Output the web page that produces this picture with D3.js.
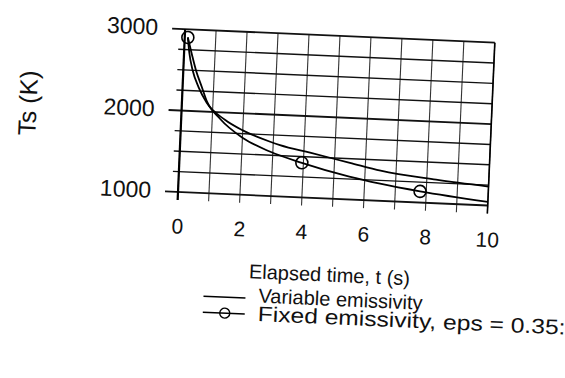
<!DOCTYPE html>
<html>
<head>
<meta charset="utf-8">
<script src="https://cdn.jsdelivr.net/npm/d3@7"></script>
<style>
  body { margin: 0; background: #fff; }
  text { font-family: "Liberation Sans", Arial, sans-serif; fill: #111; }
</style>
</head>
<body>
<script>
const width = 565;
const height = 378;

// values
const varTime = [0.1, 0.17, 0.3, 0.51, 0.8, 1.41, 2, 2.9, 3.22, 4.2, 5.5, 6.5, 8.3, 10];
const varTemp = [2900, 2710, 2500, 2300, 2110, 1910, 1790, 1665, 1630, 1552, 1450, 1370, 1290, 1233];
const fixTime = [0.1, 0.25, 0.41, 0.62, 0.8, 1.25, 2, 2.9, 3.95, 5.5, 6.5, 7.8, 10];
const fixTemp = [2900, 2700, 2500, 2300, 2130, 1920, 1700, 1545, 1424, 1280, 1210, 1137, 1045];
const markTime = [0.1, 3.95, 7.8];
const markTemp = [2900, 1424, 1137];
const xTicks = [0, 2, 4, 6, 8, 10];
const yTicks = [1000, 2000, 3000];
const legendLabels = ["Variable emissivity", "Fixed emissivity, eps = 0.35:"];

const margin = {top: 29, right: 77, bottom: 186, left: 178};
const plotW = width - margin.left - margin.right,
    plotH = height - margin.top - margin.bottom;

const svg = d3.select('body').append('svg')
    .attr('width', width)
    .attr('height', height);

// the whole scan is tilted a little clockwise
const page = svg.append('g')
    .attr('transform', `rotate(2.5, ${margin.left}, ${margin.top + plotH})`);

const g = page.append('g')
    .attr('transform', `translate(${margin.left},${margin.top})`);

const x = d3.scaleLinear().domain([0, 10]).range([0, plotW]);
const y = d3.scaleLinear().domain([1000, 3000]).range([plotH, 0]);

// vertical grid, poking out under the bottom edge
g.append('g').selectAll('line')
    .data(d3.range(0, 11))
    .enter().append('line')
    .attr('x1', d => x(d)).attr('x2', d => x(d))
    .attr('y1', 0).attr('y2', plotH + 8)
    .attr('stroke', '#333')
    .attr('stroke-width', 1.1);

// horizontal grid, poking out left of the axis
g.append('g').selectAll('line')
    .data(d3.range(1000, 3001, 250))
    .enter().append('line')
    .attr('x1', d => d % 1000 === 0 ? -13 : -6)
    .attr('x2', plotW)
    .attr('y1', d => y(d)).attr('y2', d => y(d))
    .attr('stroke', '#111')
    .attr('stroke-width', d => d % 1000 === 0 ? 1.8 : 1.4);

// frame
g.append('line').attr('x1', 0).attr('x2', 0).attr('y1', 0).attr('y2', plotH + 8)
    .attr('stroke', '#000').attr('stroke-width', 2.2);
g.append('line').attr('x1', plotW).attr('x2', plotW).attr('y1', 0).attr('y2', plotH + 8)
    .attr('stroke', '#000').attr('stroke-width', 1.6);

// tick labels
g.append('g').selectAll('text')
    .data(yTicks)
    .enter().append('text')
    .attr('x', -27)
    .attr('y', d => y(d) - 1)
    .attr('text-anchor', 'end')
    .attr('dominant-baseline', 'central')
    .style('font-size', '23px')
    .text(d => d);

g.append('g').selectAll('text')
    .data(xTicks)
    .enter().append('text')
    .attr('x', d => x(d) + 1)
    .attr('y', plotH + 34)
    .attr('text-anchor', 'middle')
    .attr('dominant-baseline', 'central')
    .style('font-size', '21px')
    .text(d => d);

// axis titles
g.append('text')
    .attr('x', plotW / 2)
    .attr('y', plotH + 76)
    .attr('text-anchor', 'middle')
    .attr('dominant-baseline', 'central')
    .style('font-size', '20px')
    .text('Elapsed time, t (s)');

g.append('text')
    .attr('transform', `translate(${-154},${plotH / 2 - 1}) rotate(-90)`)
    .attr('text-anchor', 'middle')
    .attr('dominant-baseline', 'central')
    .style('font-size', '25px')
    .text('Ts (K)');

// curves
const line = d3.line()
    .x(d => x(d[0]))
    .y(d => y(d[1]))
    .curve(d3.curveMonotoneX);

g.append('path')
    .datum(d3.zip(varTime, varTemp))
    .attr('fill', 'none')
    .attr('stroke', '#000')
    .attr('stroke-width', 1.8)
    .attr('d', line);

g.append('path')
    .datum(d3.zip(fixTime, fixTemp))
    .attr('fill', 'none')
    .attr('stroke', '#000')
    .attr('stroke-width', 1.8)
    .attr('d', line);

g.append('g').selectAll('circle')
    .data(d3.zip(markTime, markTemp))
    .enter().append('circle')
    .attr('cx', d => x(d[0]))
    .attr('cy', d => y(d[1]))
    .attr('r', 6)
    .attr('fill', 'none')
    .attr('stroke', '#000')
    .attr('stroke-width', 1.6);

// legend
const legend = g.append('g')
    .attr('transform', `translate(${30},${plotH + 103})`);

legendLabels.forEach(function(label, i) {
    const row = legend.append('g').attr('transform', `translate(0,${i * 16})`);
    row.append('line')
        .attr('x1', 0).attr('x2', 42)
        .attr('stroke', '#000').attr('stroke-width', 1.4);
    if (i === 1) {
        row.append('circle').attr('cx', 22).attr('r', 5)
            .attr('fill', 'none').attr('stroke', '#000').attr('stroke-width', 1.4);
    }
    const t = row.append('text')
        .attr('x', 55)
        .attr('y', i === 0 ? -3 : -1)
        .attr('dominant-baseline', 'central')
        .style('font-size', i === 0 ? '20px' : '21px')
        .text(label);
    // the second line is printed wider in the scan
    if (i === 1) t.attr('textLength', 308).attr('lengthAdjust', 'spacingAndGlyphs');
});
</script>
</body>
</html>
